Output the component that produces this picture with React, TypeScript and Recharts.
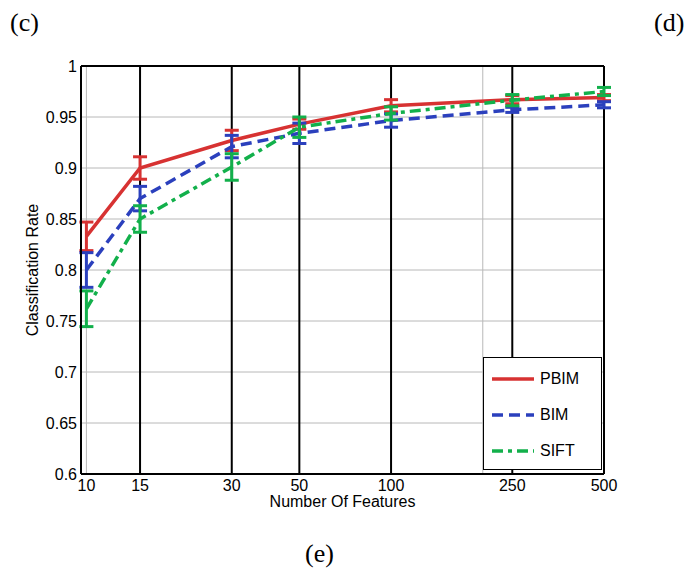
import React from 'react';
import { LineChart, Line, XAxis, YAxis, CartesianGrid, ReferenceLine, ErrorBar, Label } from 'recharts';

const featureCounts = [10, 15, 30, 50, 100, 250, 500];
const pbimRate = [0.833, 0.9, 0.927, 0.943, 0.961, 0.967, 0.969];
const pbimErr = [0.014, 0.011, 0.01, 0.005, 0.006, 0.004, 0.003];
const bimRate = [0.8, 0.87, 0.921, 0.934, 0.9465, 0.957, 0.962];
const bimErr = [0.017, 0.012, 0.011, 0.01, 0.0065, 0.0025, 0.003];
const siftRate = [0.762, 0.85, 0.901, 0.94, 0.9535, 0.9665, 0.975];
const siftErr = [0.0175, 0.013, 0.013, 0.01, 0.0065, 0.0055, 0.004];

const yTicks = [0.6, 0.65, 0.7, 0.75, 0.8, 0.85, 0.9, 0.95, 1];
const blackLines = [15, 30, 50, 100, 250];
const grayLines = [10, 200];

const series = [
  { key: 'pbim', name: 'PBIM', color: '#d73232', dash: undefined as string | undefined },
  { key: 'bim', name: 'BIM', color: '#2b40bd', dash: '11 6' },
  { key: 'sift', name: 'SIFT', color: '#12b04b', dash: '11 5 4 5' },
];

const data = featureCounts.map((n, i) => ({
  n,
  pbim: pbimRate[i],
  pbimErr: pbimErr[i],
  bim: bimRate[i],
  bimErr: bimErr[i],
  sift: siftRate[i],
  siftErr: siftErr[i],
}));

const font = 'Liberation Sans, Arial, sans-serif';
const serif = 'Liberation Serif, Times New Roman, serif';

const Caption = ({ text, left, top }: { text: string; left: number; top: number }) => (
  <div style={{ position: 'absolute', left, top, fontFamily: serif, fontSize: 26, lineHeight: 1 }}>{text}</div>
);

export default function App() {
  return (
    <div style={{ position: 'absolute', left: 0, top: 0, width: 688, height: 572, background: '#fff' }}>
      <LineChart width={688} height={572} data={data} margin={{ top: 66, right: 84, left: 0, bottom: 0 }}>
        <CartesianGrid vertical={false} stroke="#b8b8b8" strokeWidth={1} />
        {grayLines.map((x) => (
          <ReferenceLine key={'g' + x} x={x} stroke="#b8b8b8" strokeWidth={1} />
        ))}
        {blackLines.map((x) => (
          <ReferenceLine key={'b' + x} x={x} stroke="#000" strokeWidth={2} />
        ))}
        <ReferenceLine y={1} stroke="#000" strokeWidth={2} />
        <ReferenceLine x={500} stroke="#000" strokeWidth={2} />
        <XAxis
          dataKey="n"
          type="number"
          scale="log"
          domain={[9.6, 500]}
          allowDataOverflow
          ticks={featureCounts}
          height={98}
          tickLine={false}
          tickSize={4}
          tickMargin={2}
          axisLine={{ stroke: '#000', strokeWidth: 2 }}
          tick={{ fill: '#000', fontSize: 16, fontFamily: font }}
        >
          <Label value="Number Of Features" position="insideTop" offset={22} fill="#000" fontSize={16} fontFamily={font} />
        </XAxis>
        <YAxis
          type="number"
          domain={[0.6, 1]}
          ticks={yTicks}
          width={81}
          tickLine={false}
          tickSize={4}
          tickMargin={0}
          axisLine={{ stroke: '#000', strokeWidth: 2 }}
          tick={{ fill: '#000', fontSize: 16, fontFamily: font }}
        >
          <Label value="Classification Rate" angle={-90} position="center" dx={-8} fill="#000" fontSize={16} fontFamily={font} />
        </YAxis>
        {series.map((s) => (
          <Line
            key={s.key}
            type="linear"
            dataKey={s.key}
            stroke={s.color}
            strokeWidth={3.5}
            strokeDasharray={s.dash}
            dot={false}
            activeDot={false}
            isAnimationActive={false}
          >
            <ErrorBar dataKey={s.key + 'Err'} width={7} stroke={s.color} strokeWidth={3} direction="y" isAnimationActive={false} />
          </Line>
        ))}
      </LineChart>

      <div
        style={{
          position: 'absolute',
          left: 483,
          top: 357,
          width: 117,
          height: 111,
          border: '1.5px solid #000',
          background: '#fff',
          fontFamily: font,
          fontSize: 16,
        }}
      >
        {series.map((s, i) => (
          <div key={s.key} style={{ position: 'absolute', left: 7, top: 11 + i * 36, height: 20, display: 'flex', alignItems: 'center' }}>
            <svg width={44} height={8} style={{ display: 'block' }}>
              <line x1={1} y1={4} x2={43} y2={4} stroke={s.color} strokeWidth={3.5} strokeDasharray={s.dash} />
            </svg>
            <span style={{ marginLeft: 5 }}>{s.name}</span>
          </div>
        ))}
      </div>

      <Caption text="(c)" left={10} top={10} />
      <Caption text="(d)" left={654} top={10} />
      <Caption text="(e)" left={305} top={541} />
    </div>
  );
}
